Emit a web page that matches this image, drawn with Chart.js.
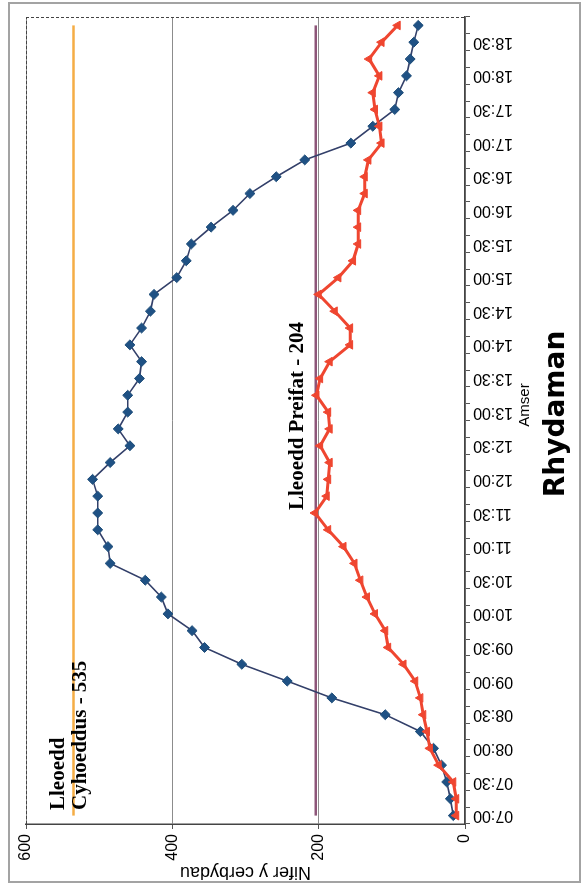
<!DOCTYPE html>
<html><head><meta charset="utf-8">
<script src="https://cdn.jsdelivr.net/npm/chart.js@4.4.1/dist/chart.umd.min.js"></script>
<style>
html,body{margin:0;padding:0;background:#fff;overflow:hidden;width:587px;height:885px;}
#wrap{position:absolute;left:0;top:0;width:885px;height:587px;transform-origin:0 0;transform:translate(0,885px) rotate(-90deg);background:#fff;}
</style></head><body>
<div id="wrap"><canvas id="c" width="885" height="587"></canvas></div>
<script>
// Categories (15-minute intervals)
const times = ["07:00","07:15","07:30","07:45","08:00","08:15","08:30","08:45","09:00","09:15","09:30","09:45",
  "10:00","10:15","10:30","10:45","11:00","11:15","11:30","11:45","12:00","12:15","12:30","12:45",
  "13:00","13:15","13:30","13:45","14:00","14:15","14:30","14:45","15:00","15:15","15:30","15:45",
  "16:00","16:15","16:30","16:45","17:00","17:15","17:30","17:45","18:00","18:15","18:30","18:45"];
// Series values
const seriesBlue = [16,20,25,32,43,61,109,182,243,305,356,373,406,415,437,485,488,502,502,502,509,485,458,474,
  461,461,445,442,458,442,430,425,394,381,374,347,317,294,258,219,156,126,96,91,80,75,70,64];
const seriesRed = [12,12,16,36,48,52,57,61,68,84,105,109,123,134,143,151,166,187,205,189,187,185,198,185,
  187,203,198,185,157,157,178,200,173,153,146,146,146,137,137,132,114,117,123,126,117,131,114,92];
// Reference capacities
const publicSpaces = 535;
const privateSpaces = 204;
const publicLabel = ["Lleoedd", "Cyhoeddus - 535"];
const privateLabel = "Lleoedd Preifat - 204";
// Value axis ticks
const valueTicks = [0, 200, 400, 600];
const chartTitle = "Rhydaman";
const xTitle = "Amser";
const yTitle = "Nifer y cerbydau";

const annotate = {
  id: 'annotate',
  beforeDraw(chart) {
    const ctx = chart.ctx;
    ctx.save();
    ctx.strokeStyle = '#a3a3a3'; ctx.lineWidth = 2;
    ctx.strokeRect(3, 9, 879, 571);
    ctx.restore();
  },
  afterDraw(chart) {
    const {ctx, chartArea: a, scales: {y}} = chart;
    ctx.save();
    ctx.strokeStyle = '#444'; ctx.lineWidth = 1; ctx.setLineDash([3, 2]);
    ctx.beginPath();
    ctx.moveTo(a.left, a.top + 0.5); ctx.lineTo(a.right, a.top + 0.5);
    ctx.moveTo(a.right - 0.5, a.top); ctx.lineTo(a.right - 0.5, a.bottom);
    ctx.stroke();
    ctx.setLineDash([]);
    ctx.fillStyle = '#000';
    ctx.font = 'bold 21px "Liberation Serif"';
    ctx.textAlign = 'left'; ctx.textBaseline = 'alphabetic';
    const yp = y.getPixelForValue(publicSpaces);
    ctx.fillText(publicLabel[0], a.left + 14, yp - 10);
    ctx.fillText(publicLabel[1], a.left + 14, yp + 12.5);
    const yq = y.getPixelForValue(privateSpaces);
    ctx.fillText(privateLabel, a.left + 314, yq - 13);
    // axis title and chart title
    ctx.textAlign = 'center';
    ctx.font = '15px "Liberation Sans"';
    ctx.fillText(xTitle, 480, a.bottom + 64);
    ctx.font = 'bold 28px "DejaVu Sans"';
    ctx.fillText(chartTitle, 471, a.bottom + 99);
    ctx.restore();
  }
};

new Chart(document.getElementById('c'), {
  type: 'line',
  data: {
    labels: times,
    datasets: [
      { data: seriesRed, borderColor: '#ef4630', backgroundColor: '#ef4630', borderWidth: 3,
        pointStyle: 'triangle', pointRadius: 5, pointBorderWidth: 1, order: 0, tension: 0 },
      { data: seriesBlue, borderColor: '#33406a', backgroundColor: '#1f5184', pointBorderColor: '#1f4e79',
        borderWidth: 1.6, pointStyle: 'rectRot', pointRadius: 5, pointBorderWidth: 1, order: 1, tension: 0 },
      { data: times.map(() => publicSpaces), borderColor: '#f5ad45', borderWidth: 2.5, pointRadius: 0, order: 3 },
      { data: times.map(() => privateSpaces), borderColor: '#8d5679', borderWidth: 2.5, pointRadius: 0, order: 2 }
    ]
  },
  options: {
    responsive: false, animation: false, devicePixelRatio: 1,
    layout: { padding: { left: 0, top: 26, right: 17, bottom: 50 } },
    plugins: { legend: { display: false }, tooltip: { enabled: false }, title: { display: false } },
    scales: {
      x: {
        type: 'category', offset: true,
        grid: { offset: true, drawOnChartArea: false, tickLength: 5, color: '#555' },
        border: { display: true, color: '#444', width: 1.5 },
        ticks: { autoSkip: false, minRotation: 90, maxRotation: 90, padding: 3, color: '#000',
          font: { family: '"Liberation Sans"', size: 16 },
          callback: (v, i) => (i % 2 === 0 ? times[i] : '') },
        afterFit: s => { s.height = 72; }
      },
      y: {
        min: 0, max: 600,
        afterBuildTicks: s => { s.ticks = valueTicks.map(v => ({ value: v })); },
        grid: { color: '#8c8c8c', lineWidth: 1, tickLength: 5, tickColor: '#555' },
        border: { display: true, color: '#444', width: 1.5 },
        ticks: { padding: 5, color: '#000', font: { family: '"Liberation Sans"', size: 16 } },
        title: { display: true, text: yTitle, color: '#000', font: { family: '"Liberation Sans"', size: 18 },
          padding: { top: 2, bottom: 0 } },
        afterFit: s => { s.width = 61; }
      }
    }
  },
  plugins: [annotate]
});
</script>
</body></html>
